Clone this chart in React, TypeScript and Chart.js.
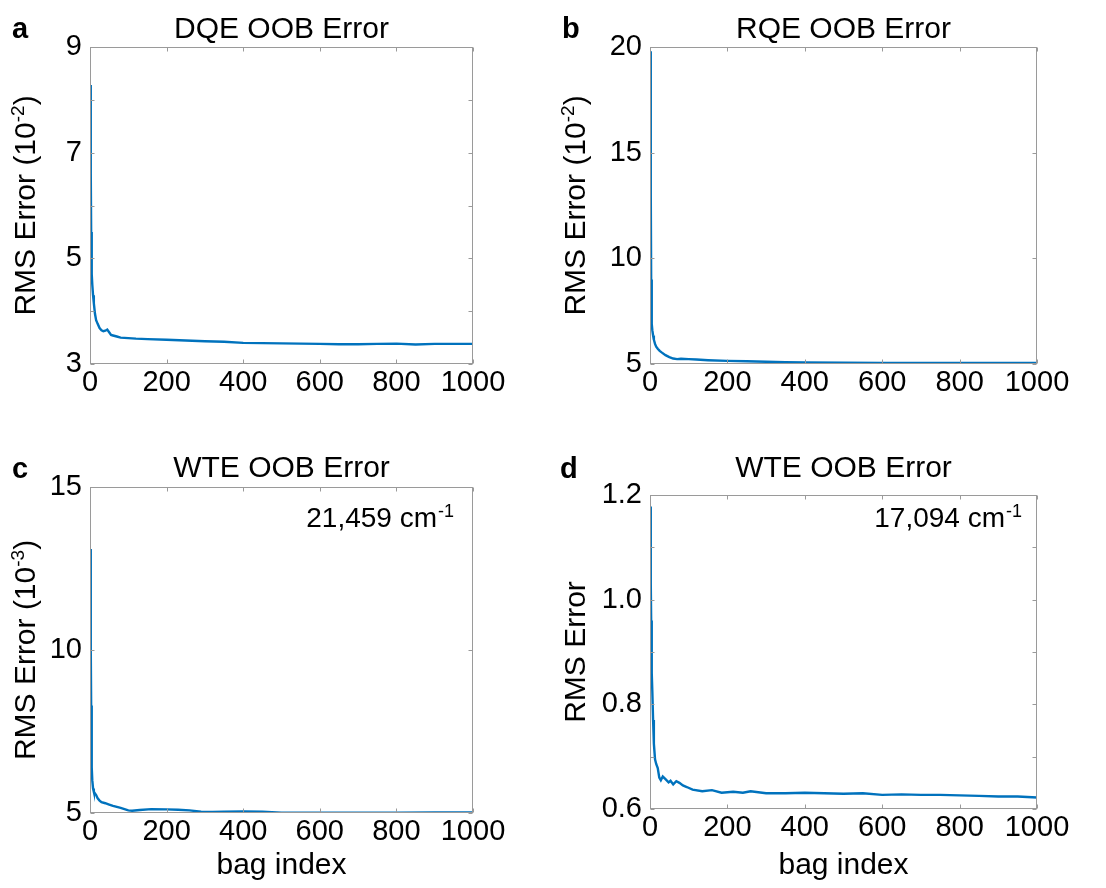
import React, { useEffect, useRef } from 'react';
import { Chart, registerables } from 'chart.js';
Chart.register(...registerables);

// ---------- data ----------
const xTickLabels = ['0', '200', '400', '600', '800', '1000'];

const dqeBag = [1, 2, 3, 4, 5, 6, 8, 10, 13, 16, 20, 25, 30, 35, 40, 45, 50, 55, 60, 70, 80, 100, 120, 150, 200, 250, 300, 350, 400, 450, 500, 550, 600, 650, 700, 750, 800, 850, 900, 950, 1000];
const dqeErr = [8.28, 6.6, 5.5, 5.0, 4.7, 4.5, 4.3, 4.15, 3.95, 3.83, 3.76, 3.68, 3.64, 3.62, 3.63, 3.65, 3.6, 3.55, 3.54, 3.52, 3.5, 3.49, 3.48, 3.47, 3.46, 3.445, 3.43, 3.42, 3.4, 3.395, 3.39, 3.385, 3.38, 3.375, 3.375, 3.38, 3.385, 3.37, 3.38, 3.38, 3.38];

const rqeBag = [1, 2, 3, 4, 5, 6, 8, 10, 13, 16, 20, 25, 30, 40, 50, 60, 70, 80, 100, 120, 150, 200, 250, 300, 350, 400, 500, 600, 700, 800, 900, 1000];
const rqeErr = [19.8, 13.0, 9.0, 7.4, 6.9, 6.6, 6.35, 6.15, 5.95, 5.82, 5.72, 5.62, 5.55, 5.42, 5.33, 5.26, 5.23, 5.25, 5.23, 5.21, 5.18, 5.15, 5.13, 5.11, 5.09, 5.07, 5.06, 5.05, 5.05, 5.045, 5.045, 5.045];

const wteCBag = [1, 2, 3, 4, 5, 6, 8, 10, 13, 16, 20, 25, 30, 40, 50, 60, 80, 100, 110, 130, 160, 200, 230, 260, 290, 320, 350, 400, 450, 500, 600, 700, 800, 900, 1000];
const wteCErr = [13.1, 10.0, 8.3, 7.2, 6.4, 6.0, 5.75, 5.65, 5.6, 5.55, 5.45, 5.38, 5.33, 5.3, 5.26, 5.22, 5.16, 5.08, 5.07, 5.09, 5.12, 5.11, 5.1, 5.08, 5.04, 5.03, 5.04, 5.05, 5.04, 5.01, 5.01, 5.01, 5.01, 5.02, 5.02];

const wteDBag = [1, 2, 3, 4, 5, 6, 8, 10, 13, 16, 20, 24, 28, 33, 40, 48, 53, 60, 68, 76, 85, 95, 110, 135, 160, 185, 215, 240, 260, 300, 350, 400, 450, 500, 550, 600, 650, 700, 750, 800, 850, 900, 950, 1000];
const wteDErr = [1.178, 1.03, 0.96, 0.9, 0.86, 0.825, 0.77, 0.725, 0.695, 0.686, 0.678, 0.66, 0.655, 0.662, 0.657, 0.651, 0.654, 0.647, 0.653, 0.65, 0.645, 0.642, 0.637, 0.634, 0.636, 0.631, 0.633, 0.631, 0.634, 0.63, 0.63, 0.631, 0.63, 0.629, 0.63, 0.627, 0.628, 0.627, 0.627, 0.626, 0.625, 0.624, 0.624, 0.622];

// ---------- layout / style ----------
const FONT = '"Liberation Sans", Arial, Helvetica, sans-serif';
const LINE = '#0072BD';
const BOX = '#9a9a9a';
const CW = 553;
const CH = 444;

type Panel = {
  letter: string;
  title: string;
  bag: number[];
  err: number[];
  yMin: number;
  yMax: number;
  yStep: number;
  yFmt: (v: number) => string;
  yTitle: string[]; // [main, sup, tail]
  xTitle: boolean;
  note: string[] | null; // [main, sup]
  ox: number;
  oy: number;
  area: { l: number; t: number; r: number; b: number }; // page coords
  letterX: number;
  letterY: number;
  titleY: number;
  yTitleX: number;
  noteRight: number;
  noteY: number;
};

const panels: Panel[] = [
  {
    letter: 'a', title: 'DQE OOB Error', bag: dqeBag, err: dqeErr,
    yMin: 3, yMax: 9, yStep: 1,
    yFmt: (v) => (Math.round(v) % 2 === 1 ? String(Math.round(v)) : ''),
    yTitle: ['RMS Error (10', '-2', ')'], xTitle: false, note: null,
    ox: 0, oy: 0, area: { l: 90, t: 47, r: 473, b: 364 },
    letterX: 12, letterY: 38, titleY: 38, yTitleX: 35, noteRight: 0, noteY: 0,
  },
  {
    letter: 'b', title: 'RQE OOB Error', bag: rqeBag, err: rqeErr,
    yMin: 5, yMax: 20, yStep: 5,
    yFmt: (v) => String(Math.round(v)),
    yTitle: ['RMS Error (10', '-2', ')'], xTitle: false, note: null,
    ox: 553, oy: 0, area: { l: 650, t: 47, r: 1037, b: 364 },
    letterX: 562, letterY: 38, titleY: 38, yTitleX: 585, noteRight: 0, noteY: 0,
  },
  {
    letter: 'c', title: 'WTE OOB Error', bag: wteCBag, err: wteCErr,
    yMin: 5, yMax: 15, yStep: 5,
    yFmt: (v) => String(Math.round(v)),
    yTitle: ['RMS Error (10', '-3', ')'], xTitle: true, note: ['21,459 cm', '-1'],
    ox: 0, oy: 444, area: { l: 90, t: 487, r: 473, b: 813 },
    letterX: 12, letterY: 478, titleY: 477, yTitleX: 35, noteRight: 437, noteY: 527,
  },
  {
    letter: 'd', title: 'WTE OOB Error', bag: wteDBag, err: wteDErr,
    yMin: 0.6, yMax: 1.2, yStep: 0.1,
    yFmt: (v) => (Math.round(v * 10) % 2 === 0 ? v.toFixed(1) : ''),
    yTitle: ['RMS Error', '', ''], xTitle: true, note: ['17,094 cm', '-1'],
    ox: 553, oy: 444, area: { l: 650, t: 495, r: 1037, b: 809 },
    letterX: 560, letterY: 478, titleY: 477, yTitleX: 585, noteRight: 1005, noteY: 527,
  },
];

function drawSupText(ctx: CanvasRenderingContext2D, parts: string[], size: number, supSize: number, cx: number, baseY: number) {
  const [main, sup, tail] = parts;
  ctx.font = `${size}px ${FONT}`;
  const w1 = ctx.measureText(main).width;
  const w3 = tail ? ctx.measureText(tail).width : 0;
  ctx.font = `${supSize}px ${FONT}`;
  const w2 = sup ? ctx.measureText(sup).width : 0;
  const total = w1 + w2 + w3;
  let x = cx - total / 2;
  ctx.textAlign = 'left';
  ctx.textBaseline = 'alphabetic';
  ctx.font = `${size}px ${FONT}`;
  ctx.fillText(main, x, baseY);
  x += w1;
  if (sup) {
    ctx.font = `${supSize}px ${FONT}`;
    ctx.fillText(sup, x, baseY - size * 0.36);
    x += w2;
  }
  if (tail) {
    ctx.font = `${size}px ${FONT}`;
    ctx.fillText(tail, x, baseY);
  }
}

function makeDecor(p: Panel) {
  return {
    id: 'decor' + p.letter,
    afterDraw(chart: any) {
      const ctx: CanvasRenderingContext2D = chart.ctx;
      const a = chart.chartArea;
      const xs = chart.scales.x;
      const ys = chart.scales.y;
      ctx.save();
      // box
      ctx.strokeStyle = BOX;
      ctx.lineWidth = 1;
      const L = Math.round(a.left) + 0.5, R = Math.round(a.right) - 0.5;
      const T = Math.round(a.top) + 0.5, B = Math.round(a.bottom) - 0.5;
      ctx.strokeRect(L, T, R - L, B - T);
      // inward ticks
      ctx.beginPath();
      xs.ticks.forEach((t: any) => {
        const px = Math.round(xs.getPixelForValue(t.value)) + 0.5;
        ctx.moveTo(px, B); ctx.lineTo(px, B - 4);
        ctx.moveTo(px, T); ctx.lineTo(px, T + 4);
      });
      ys.ticks.forEach((t: any) => {
        const py = Math.round(ys.getPixelForValue(t.value)) + 0.5;
        ctx.moveTo(L, py); ctx.lineTo(L + 4, py);
        ctx.moveTo(R, py); ctx.lineTo(R - 4, py);
      });
      ctx.stroke();

      ctx.fillStyle = '#000';
      // panel letter
      ctx.font = `bold 29px ${FONT}`;
      ctx.textAlign = 'left';
      ctx.textBaseline = 'alphabetic';
      ctx.fillText(p.letter, p.letterX - p.ox, p.letterY - p.oy);
      // title
      ctx.font = `30px ${FONT}`;
      ctx.textAlign = 'center';
      ctx.fillText(p.title, (a.left + a.right) / 2, p.titleY - p.oy);
      // y title (rotated)
      ctx.save();
      ctx.translate(p.yTitleX - p.ox, (a.top + a.bottom) / 2);
      ctx.rotate(-Math.PI / 2);
      drawSupText(ctx, p.yTitle, 30, 19, 0, 0);
      ctx.restore();
      // x title
      if (p.xTitle) {
        ctx.font = `30px ${FONT}`;
        ctx.textAlign = 'center';
        ctx.textBaseline = 'alphabetic';
        ctx.fillText('bag index', (a.left + a.right) / 2, 874 - p.oy);
      }
      // annotation
      if (p.note) {
        ctx.font = `28px ${FONT}`;
        ctx.textAlign = 'right';
        ctx.textBaseline = 'alphabetic';
        ctx.fillText(p.note[0], p.noteRight - p.ox, p.noteY - p.oy);
        ctx.font = `18px ${FONT}`;
        ctx.textAlign = 'left';
        ctx.fillText(p.note[1], p.noteRight - p.ox + 1, p.noteY - p.oy - 10);
      }
      ctx.restore();
    },
  };
}

function PanelChart({ p }: { p: Panel }) {
  const ref = useRef<HTMLCanvasElement | null>(null);
  useEffect(() => {
    if (!ref.current) return;
    const data = p.bag.map((b, i) => ({ x: b, y: p.err[i] })).filter((d) => d.y !== undefined);
    const yAxisW = p.area.l - p.ox;
    const xAxisH = CH - (p.area.b - p.oy);
    const chart = new Chart(ref.current, {
      type: 'line',
      data: {
        datasets: [
          {
            data,
            borderColor: LINE,
            borderWidth: 2.4,
            pointRadius: 0,
            tension: 0,
            fill: false,
          },
        ],
      },
      options: {
        responsive: false,
        animation: false,
        devicePixelRatio: 1,
        events: [],
        layout: {
          padding: {
            left: 0,
            top: p.area.t - p.oy,
            right: CW - (p.area.r - p.ox),
            bottom: 0,
          },
        },
        plugins: {
          legend: { display: false },
          tooltip: { enabled: false },
          title: { display: false },
        },
        scales: {
          x: {
            type: 'linear',
            min: 0,
            max: 1000,
            afterFit: (s: any) => { s.height = xAxisH; },
            grid: { display: false, drawTicks: false },
            border: { display: false },
            ticks: {
              stepSize: 200,
              autoSkip: false,
              maxRotation: 0,
              padding: 2,
              color: '#000',
              font: { family: FONT, size: 29 },
              callback: (v: any) => {
                const idx = Math.round(Number(v) / 200);
                return xTickLabels[idx] ?? '';
              },
            },
          },
          y: {
            type: 'linear',
            min: p.yMin,
            max: p.yMax,
            afterFit: (s: any) => { s.width = yAxisW; },
            grid: { display: false, drawTicks: false },
            border: { display: false },
            ticks: {
              stepSize: p.yStep,
              autoSkip: false,
              padding: 8,
              color: '#000',
              font: { family: FONT, size: 29 },
              callback: (v: any) => p.yFmt(Number(v)),
            },
          },
        },
      },
      plugins: [makeDecor(p)],
    } as any);
    return () => chart.destroy();
  }, [p]);
  return (
    <div style={{ position: 'absolute', left: p.ox, top: p.oy, width: CW, height: CH }}>
      <canvas ref={ref} width={CW} height={CH} style={{ width: CW, height: CH, display: 'block' }} />
    </div>
  );
}

export default function App() {
  return (
    <div style={{ position: 'absolute', left: 0, top: 0, width: 1106, height: 888, background: '#fff' }}>
      {panels.map((p) => (
        <PanelChart key={p.letter} p={p} />
      ))}
    </div>
  );
}
